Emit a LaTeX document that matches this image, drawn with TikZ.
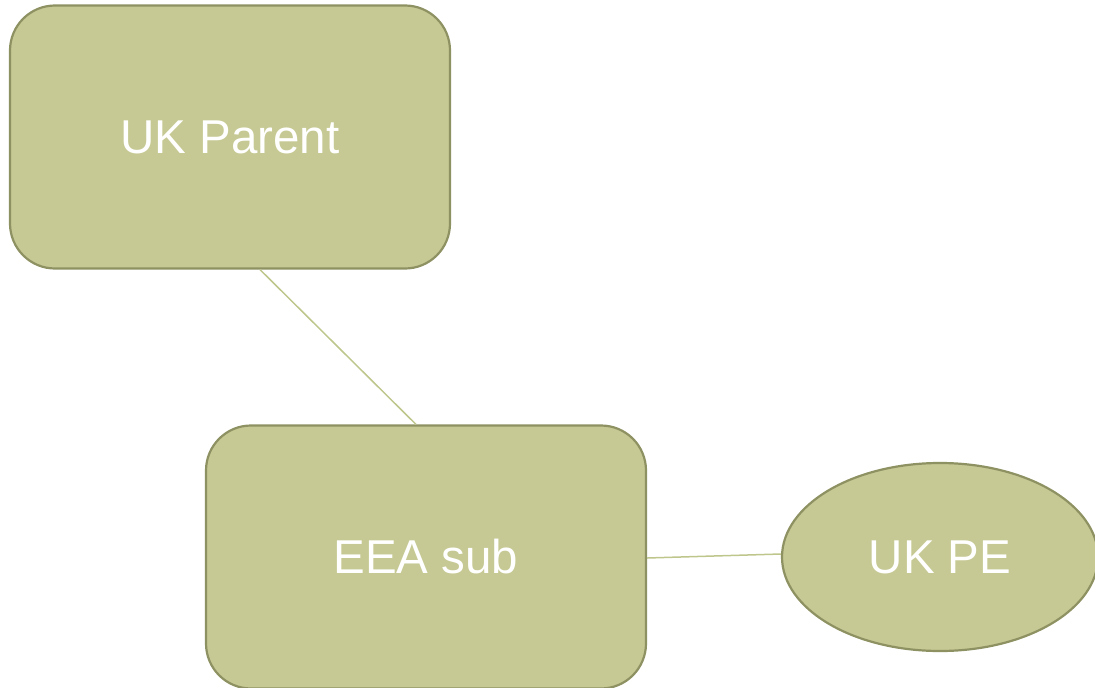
\documentclass[tikz,border=0pt]{standalone}
\usepackage{fontspec}
\setmainfont{Liberation Sans}
\usetikzlibrary{shapes.geometric}
\definecolor{boxfill}{RGB}{198,201,147}
\definecolor{boxline}{RGB}{142,145,98}
\definecolor{linkline}{RGB}{190,198,140}
\tikzset{font=\fontsize{47.5}{57}\selectfont}
\tikzset{entity/.style={draw=boxline, line width=2.2pt, fill=boxfill, text=white,
    rounded corners=45pt, minimum width=440pt, minimum height=263pt}}
\tikzset{branch/.style={ellipse, draw=boxline, line width=2.2pt, fill=boxfill, text=white,
    minimum width=316pt, minimum height=188pt, inner sep=0pt}}
\tikzset{link/.style={draw=linkline, line width=1.5pt}}

\begin{document}
\begin{tikzpicture}[x=1pt,y=-1pt]
  \useasboundingbox (0,0) rectangle (1095,688);

  \node[entity] (parent) at (230,137) {\raisebox{-2pt}{UK Parent}};
  \node[entity] (sub) at (426,557) {EEA sub};
  \node[branch] (pe) at (940,557) {UK PE};

  \draw[link] ([xshift=30pt]parent.south) -- ([xshift=-10pt]sub.north);
  \draw[link] ([yshift=-1pt]sub.east) -- ([yshift=3pt]pe.west);
\end{tikzpicture}
\end{document}
